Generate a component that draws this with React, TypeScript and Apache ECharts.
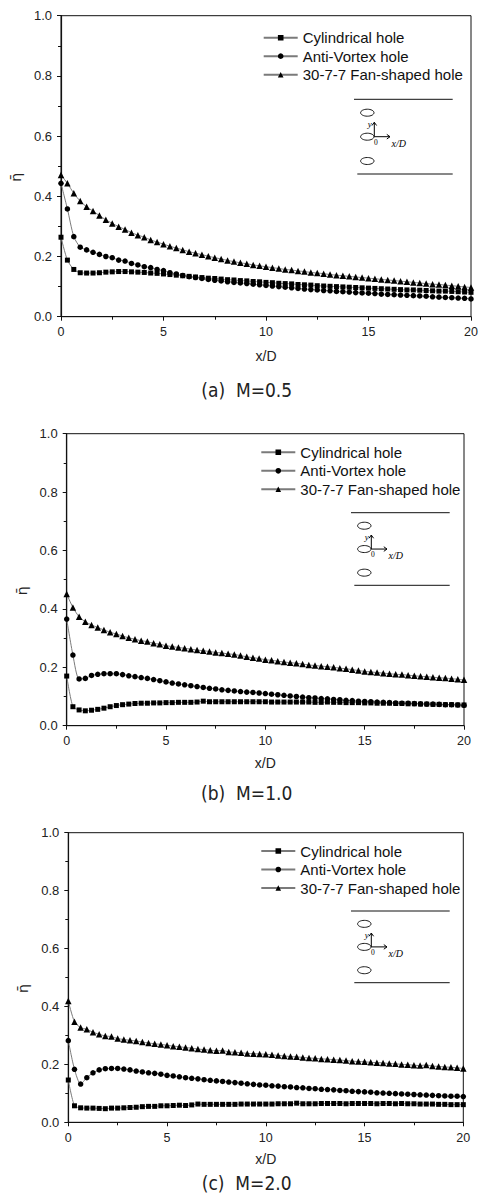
import React, { useEffect, useRef } from "react";
import * as echarts from "echarts";

// x/D sample positions (common to all panels)
const X_D = [
  0, 0.3125, 0.625, 0.9375, 1.25, 1.5625, 1.875, 2.1875, 2.5, 2.8125,
  3.125, 3.4375, 3.75, 4.0625, 4.375, 4.6875, 5, 5.3125, 5.625, 5.9375,
  6.25, 6.5625, 6.875, 7.1875, 7.5, 7.8125, 8.125, 8.4375, 8.75, 9.0625,
  9.375, 9.6875, 10, 10.3125, 10.625, 10.9375, 11.25, 11.5625, 11.875, 12.1875,
  12.5, 12.8125, 13.125, 13.4375, 13.75, 14.0625, 14.375, 14.6875, 15, 15.3125,
  15.625, 15.9375, 16.25, 16.5625, 16.875, 17.1875, 17.5, 17.8125, 18.125, 18.4375,
  18.75, 19.0625, 19.375, 19.6875, 20,
];

// (a) M = 0.5
const CYL_05 = [
  0.264, 0.188, 0.157, 0.146, 0.145, 0.145, 0.146, 0.148, 0.149, 0.15,
  0.15, 0.149, 0.148, 0.147, 0.145, 0.144, 0.142, 0.14, 0.138, 0.136,
  0.134, 0.132, 0.13, 0.128, 0.127, 0.125, 0.123, 0.122, 0.12, 0.119,
  0.117, 0.116, 0.114, 0.113, 0.111, 0.11, 0.109, 0.107, 0.106, 0.105,
  0.103, 0.102, 0.101, 0.1, 0.099, 0.098, 0.097, 0.096, 0.095, 0.094,
  0.093, 0.092, 0.091, 0.09, 0.089, 0.089, 0.088, 0.087, 0.086, 0.085,
  0.085, 0.084, 0.083, 0.082, 0.081,
];
const AV_05 = [
  0.443, 0.358, 0.266, 0.231, 0.222, 0.214, 0.207, 0.2, 0.196, 0.188,
  0.185, 0.177, 0.172, 0.166, 0.163, 0.157, 0.153, 0.146, 0.142, 0.137,
  0.133, 0.13, 0.127, 0.124, 0.121, 0.119, 0.116, 0.114, 0.112, 0.11,
  0.108, 0.106, 0.104, 0.102, 0.1, 0.098, 0.096, 0.094, 0.092, 0.09,
  0.089, 0.087, 0.086, 0.084, 0.083, 0.082, 0.08, 0.079, 0.078, 0.077,
  0.075, 0.074, 0.073, 0.072, 0.071, 0.07, 0.069, 0.068, 0.066, 0.065,
  0.064, 0.063, 0.062, 0.061, 0.059,
];
const FAN_05 = [
  0.471, 0.443, 0.41, 0.384, 0.365, 0.351, 0.336, 0.322, 0.31, 0.299,
  0.29, 0.279, 0.271, 0.264, 0.255, 0.248, 0.241, 0.234, 0.228, 0.222,
  0.216, 0.211, 0.206, 0.201, 0.196, 0.192, 0.187, 0.183, 0.179, 0.176,
  0.172, 0.169, 0.166, 0.163, 0.16, 0.157, 0.155, 0.152, 0.15, 0.147,
  0.145, 0.143, 0.14, 0.138, 0.136, 0.134, 0.132, 0.13, 0.128, 0.126,
  0.124, 0.122, 0.12, 0.118, 0.116, 0.114, 0.112, 0.11, 0.108, 0.107,
  0.105, 0.103, 0.101, 0.099, 0.097,
];

// (b) M = 1.0
const CYL_10 = [
  0.17, 0.065, 0.054, 0.051, 0.053, 0.056, 0.06, 0.065, 0.069, 0.072,
  0.074, 0.076, 0.077, 0.077, 0.078, 0.078, 0.079, 0.079, 0.08, 0.08,
  0.08, 0.081, 0.084, 0.082, 0.082, 0.082, 0.082, 0.082, 0.082, 0.082,
  0.082, 0.082, 0.082, 0.081, 0.081, 0.081, 0.081, 0.081, 0.081, 0.081,
  0.08, 0.08, 0.081, 0.08, 0.08, 0.079, 0.079, 0.079, 0.078, 0.078,
  0.077, 0.077, 0.077, 0.076, 0.076, 0.075, 0.075, 0.074, 0.074, 0.073,
  0.073, 0.072, 0.072, 0.071, 0.071,
];
const AV_10 = [
  0.365, 0.242, 0.16, 0.162, 0.172, 0.176, 0.178, 0.178, 0.178, 0.175,
  0.171, 0.168, 0.165, 0.162, 0.158, 0.154, 0.15, 0.146, 0.143, 0.14,
  0.137, 0.134, 0.131, 0.128, 0.126, 0.123, 0.121, 0.119, 0.117, 0.115,
  0.114, 0.112, 0.11, 0.108, 0.106, 0.104, 0.102, 0.1, 0.098, 0.096,
  0.095, 0.093, 0.092, 0.09, 0.089, 0.087, 0.086, 0.084, 0.083, 0.082,
  0.081, 0.08, 0.079, 0.078, 0.077, 0.077, 0.076, 0.075, 0.074, 0.074,
  0.073, 0.072, 0.072, 0.071, 0.07,
];
const FAN_10 = [
  0.451, 0.405, 0.373, 0.356, 0.345, 0.336, 0.328, 0.32, 0.314, 0.307,
  0.301, 0.296, 0.291, 0.288, 0.282, 0.279, 0.274, 0.271, 0.268, 0.265,
  0.262, 0.259, 0.257, 0.254, 0.251, 0.249, 0.246, 0.244, 0.24, 0.236,
  0.233, 0.23, 0.226, 0.224, 0.221, 0.218, 0.216, 0.214, 0.211, 0.208,
  0.206, 0.204, 0.202, 0.2, 0.197, 0.195, 0.192, 0.189, 0.186, 0.184,
  0.182, 0.18, 0.178, 0.176, 0.175, 0.173, 0.171, 0.169, 0.168, 0.166,
  0.164, 0.163, 0.161, 0.159, 0.157,
];

// (c) M = 2.0
const CYL_20 = [
  0.146, 0.057, 0.05, 0.049, 0.049, 0.048, 0.047, 0.049, 0.049, 0.05,
  0.051, 0.052, 0.054, 0.055, 0.055, 0.057, 0.057, 0.058, 0.059, 0.058,
  0.06, 0.063, 0.062, 0.062, 0.062, 0.062, 0.062, 0.062, 0.063, 0.063,
  0.063, 0.063, 0.063, 0.063, 0.064, 0.064, 0.064, 0.066, 0.064, 0.064,
  0.064, 0.065, 0.065, 0.065, 0.065, 0.064, 0.065, 0.065, 0.065, 0.065,
  0.064, 0.065, 0.065, 0.064, 0.065, 0.064, 0.064, 0.063, 0.063, 0.063,
  0.062, 0.062, 0.061, 0.061, 0.061,
];
const AV_20 = [
  0.282, 0.183, 0.132, 0.154, 0.171, 0.181, 0.185, 0.186, 0.186, 0.184,
  0.181, 0.177, 0.174, 0.171, 0.169, 0.166, 0.162, 0.16, 0.157, 0.154,
  0.152, 0.15, 0.147, 0.145, 0.143, 0.141, 0.139, 0.137, 0.135, 0.133,
  0.131, 0.129, 0.128, 0.126, 0.125, 0.123, 0.122, 0.12, 0.119, 0.117,
  0.116, 0.114, 0.113, 0.112, 0.11, 0.109, 0.107, 0.106, 0.105, 0.104,
  0.102, 0.101, 0.1, 0.099, 0.098, 0.097, 0.096, 0.095, 0.094, 0.093,
  0.092, 0.091, 0.09, 0.09, 0.089,
];
const FAN_20 = [
  0.419, 0.347, 0.327, 0.321, 0.311, 0.304, 0.298, 0.296, 0.289, 0.286,
  0.283, 0.281, 0.277, 0.274, 0.271, 0.269, 0.266, 0.263, 0.261, 0.258,
  0.256, 0.253, 0.251, 0.249, 0.247, 0.248, 0.243, 0.242, 0.24, 0.238,
  0.237, 0.236, 0.235, 0.233, 0.231, 0.229, 0.227, 0.226, 0.224, 0.222,
  0.221, 0.219, 0.218, 0.216, 0.215, 0.213, 0.211, 0.21, 0.209, 0.207,
  0.206, 0.205, 0.203, 0.202, 0.2, 0.199, 0.197, 0.196, 0.198, 0.194,
  0.193, 0.191, 0.19, 0.188, 0.186,
];

const SERIES_NAMES = ["Cylindrical hole", "Anti-Vortex hole", "30-7-7 Fan-shaped hole"];
const PANEL_TITLES = ["(a)  M=0.5", "(b)  M=1.0", "(c)  M=2.0"];
const PANEL_DATA = [
  [CYL_05, AV_05, FAN_05],
  [CYL_10, AV_10, FAN_10],
  [CYL_20, AV_20, FAN_20],
];
const X_NAME = "x/D";
const Y_NAME = "\u03B7\u0304";

// layout (pixels)
const GRIDS = [
  { left: 61, top: 15.7, width: 410, height: 301, yGap: 28, xGap: 32 },
  { left: 66.7, top: 433.7, width: 397.3, height: 292, yGap: 33.5, xGap: 30 },
  { left: 68.3, top: 832.7, width: 395, height: 289.6, yGap: 35, xGap: 30 },
];
const LEGEND_POS = [
  { left: 262.7, top: 30.2 },
  { left: 260.3, top: 444.8 },
  { left: 260.3, top: 843.5 },
];
const TITLE_POS = [
  { x: 246.7, y: 390 },
  { x: 246.7, y: 793 },
  { x: 246.7, y: 1183 },
];
const INSET_POS = [
  { x: 354, y: 99.3, h: 74.7 },
  { x: 351, y: 512.7, h: 72.6 },
  { x: 351, y: 911, h: 71.7 },
];

const SANS = "'Liberation Sans', Arial, Helvetica, sans-serif";
const SERIF = "'Liberation Serif', 'DejaVu Serif', serif";
const SYMBOLS = ["rect", "circle", "triangle"];
const SYMBOL_SIZES = [5, 5.5, 6.5];

function insetGraphics(p: { x: number; y: number; h: number }) {
  const s = p.h / 74.7;
  const ex = p.x + 13.3;
  const cy = [p.y + 13.4 * s, p.y + 37.4 * s, p.y + 61.7 * s];
  const ox = p.x + 20.3;
  const oy = cy[1];
  const upY = oy - 14.4 * s;
  const rx = ox + 15.7;
  const stroke = { stroke: "#000", lineWidth: 1 };
  const els: any[] = [
    { type: "line", shape: { x1: p.x, y1: p.y, x2: p.x + 98.7, y2: p.y }, style: { stroke: "#111", lineWidth: 1 } },
    { type: "line", shape: { x1: p.x + 3.3, y1: p.y + p.h, x2: p.x + 98.7, y2: p.y + p.h }, style: { stroke: "#111", lineWidth: 1 } },
  ];
  cy.forEach((c) => {
    els.push({ type: "ellipse", shape: { cx: ex, cy: c, rx: 6.7, ry: 3.5 }, style: { fill: "none", stroke: "#000", lineWidth: 0.9 } });
  });
  els.push(
    { type: "line", shape: { x1: ox, y1: oy, x2: ox, y2: upY }, style: stroke },
    { type: "polyline", shape: { points: [[ox - 2.3, upY + 3.2], [ox, upY], [ox + 2.3, upY + 3.2]] }, style: { ...stroke, fill: "none" } },
    { type: "line", shape: { x1: ox, y1: oy, x2: rx, y2: oy }, style: stroke },
    { type: "polyline", shape: { points: [[rx - 3.2, oy - 2.3], [rx, oy], [rx - 3.2, oy + 2.3]] }, style: { ...stroke, fill: "none" } },
    { type: "text", x: ox - 4.5, y: upY + 1.5, style: { text: "y", fontSize: 9, fontStyle: "italic", fontFamily: SERIF, fill: "#000", align: "center", verticalAlign: "middle", textAlign: "center", textVerticalAlign: "middle" } },
    { type: "text", x: ox + 1.5, y: oy + 5.5, style: { text: "0", fontSize: 7.5, fontFamily: SERIF, fill: "#000", align: "center", verticalAlign: "middle", textAlign: "center", textVerticalAlign: "middle" } },
    { type: "text", x: rx + 1.5, y: oy + 6.5, style: { text: "x/D", fontSize: 10, fontStyle: "italic", fontFamily: SERIF, fill: "#000", align: "left", verticalAlign: "middle", textAlign: "left", textVerticalAlign: "middle" } }
  );
  return els;
}

export default function App() {
  const ref = useRef<HTMLDivElement>(null);

  useEffect(() => {
    if (!ref.current) return;
    const chart = echarts.init(ref.current, null, { renderer: "svg" });

    const grid = GRIDS.map((g) => ({
      left: g.left,
      top: g.top,
      width: g.width,
      height: g.height,
      show: true,
      borderColor: "#111",
      borderWidth: 1,
      backgroundColor: "transparent",
      containLabel: false,
    }));

    const xAxis = GRIDS.map((g, k) => ({
      type: "value",
      gridIndex: k,
      min: 0,
      max: 20,
      interval: 5,
      name: X_NAME,
      nameLocation: "middle",
      nameGap: g.xGap,
      nameTextStyle: { fontSize: 14, fontFamily: SANS, color: "#222" },
      axisLine: { show: true, onZero: false, lineStyle: { color: "#111", width: 1.2 } },
      axisTick: { show: true, inside: false, length: 4, lineStyle: { color: "#111" } },
      minorTick: { show: true, splitNumber: 2, length: 3, lineStyle: { color: "#111" } },
      axisLabel: { fontSize: 12.5, fontFamily: SANS, color: "#222", margin: 9 },
      splitLine: { show: false },
    }));

    const yAxis = GRIDS.map((g, k) => ({
      type: "value",
      gridIndex: k,
      min: 0,
      max: 1,
      interval: 0.2,
      name: Y_NAME,
      nameLocation: "middle",
      nameRotate: 90,
      nameGap: g.yGap,
      nameTextStyle: {
        fontSize: 14,
        fontFamily: "'DejaVu Sans', sans-serif",
        color: "#222",
        padding: [0, 22, 0, 0],
      },
      axisLine: { show: true, onZero: false, lineStyle: { color: "#111", width: 1.2 } },
      axisTick: { show: true, inside: false, length: 4, lineStyle: { color: "#111" } },
      minorTick: { show: true, splitNumber: 2, length: 3, lineStyle: { color: "#111" } },
      axisLabel: {
        fontSize: 13,
        fontFamily: SANS,
        color: "#222",
        margin: 9,
        formatter: (v: number) => v.toFixed(1),
      },
      splitLine: { show: false },
    }));

    const series: any[] = [];
    PANEL_DATA.forEach((panel, k) => {
      panel.forEach((vals, j) => {
        series.push({
          type: "line",
          name: SERIES_NAMES[j],
          xAxisIndex: k,
          yAxisIndex: k,
          data: X_D.map((x, i) => [x, vals[i]]),
          symbol: SYMBOLS[j],
          symbolSize: SYMBOL_SIZES[j],
          showSymbol: true,
          smooth: 0.25,
          lineStyle: { color: "#7a7a7a", width: 1 },
          itemStyle: { color: "#000" },
          z: 3 + j,
        });
      });
    });

    const legend = LEGEND_POS.map((p) => ({
      data: SERIES_NAMES,
      orient: "vertical",
      left: p.left,
      top: p.top,
      itemWidth: 34,
      itemHeight: 7,
      itemGap: 3.5,
      padding: 0,
      selectedMode: false,
      textStyle: { fontSize: 15, fontFamily: SANS, color: "#111", padding: [0, 0, 0, 0] },
    }));

    const graphics: any[] = [];
    PANEL_TITLES.forEach((t, k) => {
      graphics.push({
        type: "text",
        x: TITLE_POS[k].x,
        y: TITLE_POS[k].y,
        style: {
          text: t,
          fontSize: 19,
          fontFamily: "'Liberation Sans Narrow', 'DejaVu Sans Condensed', 'Liberation Sans', sans-serif",
          fill: "#222",
          align: "center",
          verticalAlign: "middle",
          textAlign: "center",
          textVerticalAlign: "middle",
        },
      });
    });
    INSET_POS.forEach((p) => graphics.push(...insetGraphics(p)));

    chart.setOption({
      animation: false,
      backgroundColor: "#fff",
      grid,
      xAxis,
      yAxis,
      legend,
      series,
      graphic: { elements: graphics },
    });

    return () => chart.dispose();
  }, []);

  return (
    <div
      ref={ref}
      style={{ position: "absolute", left: 0, top: 0, width: 483, height: 1199, background: "#fff" }}
    />
  );
}
